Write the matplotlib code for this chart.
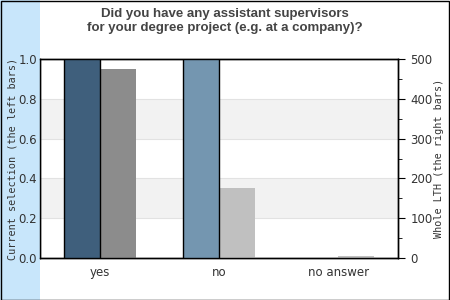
import matplotlib
matplotlib.use("Agg")
import matplotlib.pyplot as plt
from matplotlib.patches import Rectangle
from matplotlib.ticker import MultipleLocator
import numpy as np

categories = ["yes", "no", "no answer"]
selection = [1.0, 1.0, 0.0]        # left bars, left axis
whole_lth = [474, 175, 5]          # right bars, right axis
left_colors = ["#3f5f7c", "#7496b0", "#7496b0"]
right_colors = ["#8c8c8c", "#c0c0c0", "#c0c0c0"]

W, H = 450, 300
fig = plt.figure(figsize=(W / 100, H / 100), dpi=100)
fig.patch.set_facecolor("white")

# light blue strip on the left and outer frame
fig.patches.append(Rectangle((0, 0), 40 / W, 1, transform=fig.transFigure,
                             facecolor="#c8e6fb", edgecolor="none", zorder=0))
fig.patches.append(Rectangle((0.5 / W, 0.5 / H), 1 - 1.5 / W, 1 - 1.5 / H,
                             transform=fig.transFigure, facecolor="none",
                             edgecolor="black", linewidth=1, zorder=10))

ax = fig.add_axes([40 / W, 1 - 258 / H, 358 / W, 199 / H])
ax2 = ax.twinx()
ax.set_zorder(ax2.get_zorder() + 1)
ax.patch.set_visible(False)
ax2.set_facecolor("white")

x = np.arange(len(categories))
w = 0.302

# stripes and grid on the back axes
for lo in (0.2, 0.6):
    ax2.axhspan(lo * 500, (lo + 0.2) * 500, color="#f2f2f2", zorder=0, lw=0)
for g in (0.2, 0.4, 0.6, 0.8):
    ax2.axhline(g * 500, color="#e2e2e2", lw=0.8, zorder=0.5)

edge_w = [1 if v > 0 else 0 for v in selection]
ax.bar(x - w / 2, selection, width=w, color=left_colors, edgecolor="black",
       linewidth=edge_w, zorder=3)
ax.bar(x + w / 2, [v / 500 for v in whole_lth], width=w, color=right_colors,
       edgecolor="none", zorder=2)

ax.set_xlim(-0.5, 2.5)
ax.set_ylim(0, 1)
ax2.set_ylim(0, 500)
ax.set_xticks(x)
ax.set_xticklabels(categories)
ax.set_yticks(np.arange(0, 1.01, 0.2))
ax.set_yticklabels([f"{v:.1f}" for v in np.arange(0, 1.01, 0.2)])
ax.tick_params(axis="x", length=0, pad=6, labelsize=8.5, labelcolor="#333333")
ax.tick_params(axis="y", length=0, pad=2, labelsize=8.5, labelcolor="#333333")

ax2.yaxis.set_major_locator(MultipleLocator(100))
ax2.yaxis.set_minor_locator(MultipleLocator(50))
ax2.tick_params(axis="y", which="major", length=5, labelsize=8.5,
                labelcolor="#333333", pad=4)
ax2.tick_params(axis="y", which="minor", length=3)

for a in (ax, ax2):
    for s in a.spines.values():
        s.set_linewidth(1)
        s.set_color("black")

ax.set_ylabel("Current selection (the left bars)", family="DejaVu Sans Mono",
              fontsize=7.3, color="#333333", labelpad=1)
ax2.set_ylabel("Whole LTH (the right bars)", family="DejaVu Sans Mono",
               fontsize=7.3, color="#333333", labelpad=1)

fig.text(225 / W, 1 - 21 / H,
         "Did you have any assistant supervisors\nfor your degree project (e.g. at a company)?",
         ha="center", va="center", fontsize=9.5, fontweight="bold",
         family="Liberation Sans", color="#444444", linespacing=1.3)

fig.savefig("out.png", dpi=100)
